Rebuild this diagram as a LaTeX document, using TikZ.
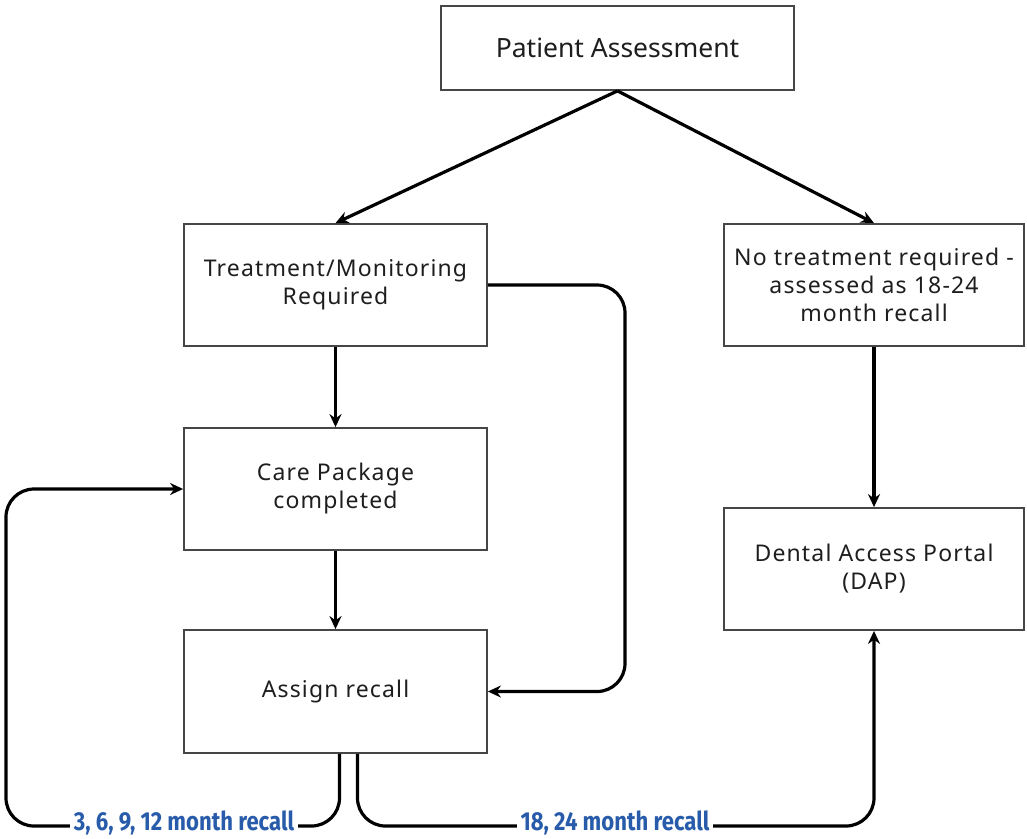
\documentclass[tikz,border=0pt]{standalone}
\usepackage{fontspec}
\setmainfont{Noto Sans}
\newfontfamily\boxfont[LetterSpace=5]{Noto Sans}
\newfontfamily\lblfont[FakeStretch=0.85]{Fira Sans}
\usetikzlibrary{arrows.meta}
\definecolor{lblblue}{RGB}{40,92,170}
\definecolor{boxline}{RGB}{70,70,70}
\definecolor{boxtext}{RGB}{30,30,30}
\begin{document}
\begin{tikzpicture}[x=1pt,y=-1pt,
  box/.style={draw=boxline,line width=1.8pt,fill=white,align=center,text=boxtext,
    inner sep=0pt,font=\boxfont\fontsize{23}{28}\selectfont},
  conn/.style={draw=black,line width=3.2pt,-{Stealth[length=13pt,width=12pt]},rounded corners=28pt},
  lbl/.style={fill=white,text=lblblue,inner xsep=4pt,inner ysep=1pt,font=\lblfont\bfseries\fontsize{26}{28}\selectfont}]
\useasboundingbox (0,0) rectangle (1027,838);
\node[box,minimum width=353pt,minimum height=84pt,font=\fontsize{26.5}{30}\selectfont] (pa) at (617.5,48) {Patient Assessment};
\node[box,minimum width=303pt,minimum height=122pt] (tr) at (335.5,285) {Treatment/Monitoring\\Required};
\node[box,minimum width=300pt,minimum height=122pt] (nt) at (874,285) {No treatment required -\\assessed as 18-24\\month recall};
\node[box,minimum width=303pt,minimum height=122pt] (cp) at (335.5,489) {Care Package\\completed};
\node[box,minimum width=303pt,minimum height=123pt] (ar) at (335.5,691.5) {Assign recall};
\node[box,minimum width=300pt,minimum height=122pt] (dap) at (874,569) {Dental Access Portal\\(DAP)};
\coordinate (bottom) at (0,826);
\coordinate (bl) at (6,826);
\coordinate (rx) at (625,0);
\coordinate (l0) at ([xshift=4pt]ar.south);
\coordinate (r0) at ([xshift=22pt]ar.south);
\draw[conn] (pa.south) -- (tr.north);
\draw[conn] (pa.south) -- (nt.north);
\draw[conn] (tr.south) -- (cp.north);
\draw[conn] (cp.south) -- (ar.north);
\draw[conn] (nt.south) -- (dap.north);
\draw[conn] (tr.east) -- (rx |- tr.east) -- (rx |- ar.east) -- (ar.east);
\draw[conn] (l0) -- (l0 |- bottom) -- (bl) -- (bl |- cp.west) -- (cp.west);
\draw[conn] (r0) -- (r0 |- bottom) -- (dap.south |- bottom) -- (dap.south);
\node[lbl] (lab1) at (184,823) {3, 6, 9, 12 month recall};
\node[lbl] (lab2) at (615,823) {18, 24 month recall};
\end{tikzpicture}
\end{document}
